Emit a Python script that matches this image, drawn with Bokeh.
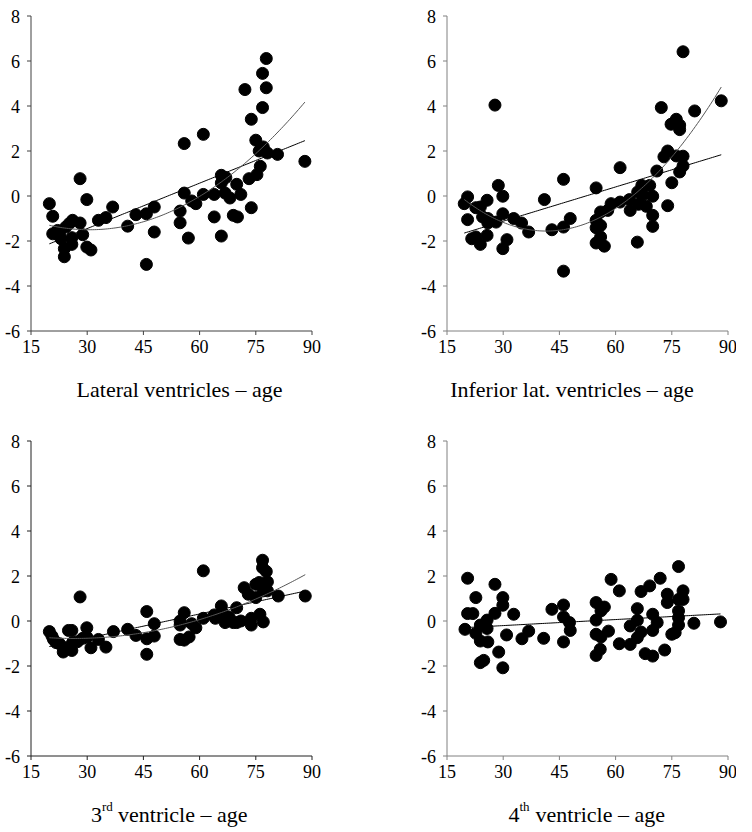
import numpy as np
from bokeh.plotting import figure
from bokeh.models import Range1d
from bokeh.core.properties import value
from bokeh.layouts import column, row
from bokeh.embed import file_html
from bokeh.resources import INLINE

# ---------------- data ----------------
x_ticks = [15, 30, 45, 60, 75, 90]
y_ticks = [-6, -4, -2, 0, 2, 4, 6, 8]

lat_age = [19.9, 20.8, 20.8, 22.1, 22.6, 23.0, 23.9, 23.9, 24.3, 25.2, 26.1, 25.9, 25.9,
           28.1, 28.1, 28.8, 29.9, 29.9, 31.0, 33.0, 35.0, 36.8, 40.8, 43.0, 45.8, 45.8,
           47.9, 47.9, 55.9, 54.8, 54.8, 55.9, 57.0, 57.9, 59.0, 61.0, 61.0, 63.9, 63.9,
           65.8, 65.8, 65.8, 67.0, 66.8, 68.1, 69.0, 69.9, 70.1, 71.0, 72.1, 73.2, 73.8,
           73.8, 75.0, 75.3, 75.9, 76.2, 76.8, 76.8, 77.0, 77.8, 77.8, 78.1, 80.8, 88.1]
lat_val = [-0.34, -0.90, -1.68, -1.53, -1.68, -1.90, -2.34, -2.70, -1.38, -1.23, -1.08, -1.85, -2.15,
           0.77, -1.20, -1.72, -0.16, -2.27, -2.40, -1.08, -0.96, -0.49, -1.34, -0.83, -0.79, -3.04,
           -0.49, -1.60, 2.33, -0.67, -1.19, 0.13, -1.87, -0.22, -0.34, 2.74, 0.07, 0.07, -0.93,
           0.92, 0.58, -1.78, 0.82, 0.13, -0.09, -0.86, 0.52, -0.93, 0.07, 4.73, 0.77, 3.41,
           -0.52, 2.48, 0.95, 2.00, 1.32, 5.45, 3.93, 2.18, 6.11, 4.81, 1.91, 1.85, 1.54]

inf_age = [19.6, 20.5, 20.5, 21.6, 22.7, 22.7, 23.9, 23.9, 24.5, 25.7, 25.7, 25.9, 25.9,
           27.8, 28.1, 28.7, 29.9, 29.9, 29.9, 31.0, 32.8, 34.9, 36.8, 41.0, 43.0, 46.1,
           46.1, 46.1, 47.9, 54.8, 54.8, 54.8, 54.8, 56.0, 56.0, 56.0, 57.0, 57.9, 58.8,
           61.2, 61.2, 63.7, 63.9, 65.8, 65.9, 66.1, 67.0, 67.3, 68.2, 69.1, 69.9, 69.9,
           69.9, 71.0, 72.2, 72.9, 73.9, 73.9, 74.8, 75.0, 76.2, 76.2, 77.1, 77.1, 77.1,
           78.0, 78.0, 78.0, 81.1, 88.2]
inf_val = [-0.34, -0.04, -1.05, -1.90, -1.82, -0.52, -0.49, -2.15, -0.93, -0.19, -1.75, -1.20, -1.00,
           4.04, -1.16, 0.47, -0.01, -0.79, -2.34, -1.94, -1.00, -1.20, -1.60, -0.16, -1.50, 0.74,
           -1.38, -3.34, -1.00, 0.36, -1.08, -1.41, -2.09, -0.71, -1.31, -1.82, -2.23, -0.64, -0.34,
           1.26, -0.27, -0.16, -0.64, -2.05, 0.18, -0.37, 0.47, 0.06, -0.46, 0.47, -0.01, -0.86,
           -1.35, 1.11, 3.93, 1.74, 2.00, -0.43, 3.19, 0.59, 3.41, 1.78, 3.15, 2.95, 1.07,
           6.41, 1.77, 1.34, 3.78, 4.23]

third_age = [19.9, 20.6, 21.0, 21.7, 22.6, 23.6, 24.3, 25.0, 25.9, 25.9, 26.1, 27.4, 28.1,
             28.8, 29.9, 29.9, 31.0, 33.0, 35.0, 37.0, 40.8, 43.0, 45.9, 45.9, 45.9, 47.9,
             47.9, 54.8, 54.8, 54.8, 55.9, 55.9, 57.2, 57.9, 59.0, 61.0, 61.0, 63.9, 64.2,
             65.8, 66.1, 66.8, 67.9, 69.0, 69.9, 69.9, 71.0, 71.9, 73.0, 73.8, 73.8, 75.0,
             75.0, 75.9, 76.1, 76.8, 76.8, 77.0, 77.0, 77.8, 78.1, 78.1, 81.0, 88.2]
third_val = [-0.47, -0.67, -0.82, -0.96, -1.01, -1.38, -1.19, -0.42, -0.42, -1.31, -0.96, -0.92, 1.07,
             -0.77, -0.30, -0.71, -1.19, -0.82, -1.16, -0.47, -0.37, -0.64, 0.42, -0.79, -1.48, -0.12,
             -0.67, 0.00, -0.18, -0.82, 0.37, -0.85, -0.71, -0.12, -0.30, 2.23, 0.12, 0.27, 0.12,
             0.67, 0.37, -0.07, 0.18, -0.07, 0.59, -0.07, 0.00, 1.48, 1.19, 0.12, -0.18, 1.04,
             1.63, 1.71, 0.30, 2.70, 2.37, 1.34, -0.04, 2.20, 1.74, 1.34, 1.11, 1.11]

fourth_age = [19.8, 20.5, 20.5, 21.9, 22.7, 22.7, 23.9, 23.9, 23.9, 24.8, 25.7, 25.7, 25.9,
              27.8, 27.8, 28.8, 29.9, 29.9, 29.9, 30.9, 32.8, 35.0, 36.8, 40.8, 43.0, 46.1,
              46.1, 46.1, 47.7, 47.9, 54.8, 54.8, 54.8, 54.8, 55.9, 56.1, 56.1, 57.0, 58.1,
              58.8, 61.0, 61.0, 63.9, 63.9, 65.8, 65.8, 65.8, 66.8, 66.8, 67.9, 69.1, 69.9,
              69.9, 69.9, 71.1, 71.9, 73.1, 73.8, 73.8, 75.0, 75.9, 76.8, 76.8, 76.8, 76.8,
              76.8, 78.0, 78.0, 80.9, 88.0]
fourth_val = [-0.37, 1.90, 0.33, 0.33, 1.04, -0.55, -0.18, -0.89, -1.85, -1.75, 0.04, -0.33, -0.93,
              0.34, 1.63, -1.38, 1.04, 0.70, -2.08, -0.62, 0.30, -0.79, -0.45, -0.77, 0.52, 0.71,
              0.18, -0.93, -0.07, -0.42, 0.82, 0.04, -0.59, -1.53, -1.26, -0.71, 0.45, 0.62, -0.45,
              1.85, 1.34, -1.01, -1.04, -0.22, 0.55, 0.03, -0.74, 1.31, -0.49, -1.45, 1.56, 0.30,
              -0.42, -1.56, -0.07, 1.90, -1.29, 1.19, 0.82, -0.59, -0.52, 2.42, 0.96, 0.45, 0.15,
              -0.18, 1.34, 0.96, -0.10, -0.04]

# titles: (main text, superscript, rest)
title_lat = ("Lateral ventricles \u2013 age", "", "")
title_inf = ("Inferior lat. ventricles \u2013 age", "", "")
title_3rd = ("3", "rd", "ventricle \u2013 age")
title_4th = ("4", "th", "ventricle \u2013 age")

# ---------------- layout / style constants (pixels) ----------------
FIG_W = 368
ROW_H = [420, 412]
FRAME_W, FRAME_H = 281.0, 315.0
AXIS_LEFT = [30.5, 78.5]      # y-axis position inside figure, per column
AXIS_TOP = [15.5, 20.5]       # top of y-axis inside figure, per row
TITLE_BASE = [389, 394]       # title baseline inside figure, per row
TITLE_CX = [[179, 203.5], [169, 218.5]]
X_MIN, X_MAX, Y_MIN, Y_MAX = 15, 90, -6, 8
PPX = FRAME_W / (X_MAX - X_MIN)
PPY = FRAME_H / (Y_MAX - Y_MIN)
FONT = value("Liberation Serif")
TICK_SIZE = "18px"
TITLE_SIZE = "22px"
SUP_SIZE = "13px"
TICK_LEN = 4


def make_panel(xs, ys, degrees, axis_color, r, c, title):
    h = ROW_H[r]
    x0 = X_MIN - AXIS_LEFT[c] / PPX
    x1 = x0 + FIG_W / PPX
    y1 = Y_MAX + AXIS_TOP[r] / PPY
    y0 = y1 - h / PPY
    p = figure(width=FIG_W, height=h, output_backend="svg", toolbar_location=None,
               x_range=Range1d(x0, x1), y_range=Range1d(y0, y1),
               x_axis_location=None, y_axis_location=None, title=None,
               min_border=0, background_fill_color="white", border_fill_color="white")
    p.outline_line_color = None
    p.grid.visible = False

    # axes (drawn in data space)
    tx = TICK_LEN / PPX
    ty = TICK_LEN / PPY
    p.segment(x0=[X_MIN, X_MIN], y0=[Y_MIN, Y_MIN], x1=[X_MAX, X_MIN], y1=[Y_MIN, Y_MAX],
              line_color=axis_color, line_width=1)
    p.segment(x0=x_ticks, y0=[Y_MIN] * len(x_ticks), x1=x_ticks, y1=[Y_MIN - ty] * len(x_ticks),
              line_color=axis_color, line_width=1)
    p.segment(x0=[X_MIN] * len(y_ticks), y0=y_ticks, x1=[X_MIN - tx] * len(y_ticks), y1=y_ticks,
              line_color=axis_color, line_width=1)
    p.text(x=x_ticks, y=[Y_MIN] * len(x_ticks), text=[str(v) for v in x_ticks],
           text_font=FONT, text_font_size=TICK_SIZE, text_color="black",
           text_align="center", text_baseline="middle", y_offset=15)
    p.text(x=[X_MIN] * len(y_ticks), y=y_ticks, text=[str(v) for v in y_ticks],
           text_font=FONT, text_font_size=TICK_SIZE, text_color="black",
           text_align="right", text_baseline="middle", x_offset=-11)

    # data
    p.scatter(xs, ys, size=12, color="black", line_color="black")
    xa = np.array(xs)
    xx = np.linspace(xa.min(), xa.max(), 120)
    for deg in degrees:
        coef = np.polyfit(xa, np.array(ys), deg)
        col = "black" if deg == 1 else "#555555"
        p.line(xx, np.polyval(coef, xx), line_color=col, line_width=1)

    # panel title
    main, sup, rest = title
    tx_c = x0 + TITLE_CX[r][c] / PPX
    ty_b = y1 - TITLE_BASE[r] / PPY
    if not sup:
        p.text(x=[tx_c], y=[ty_b], text=[main], text_font=FONT, text_font_size=TITLE_SIZE,
               text_color="black", text_align="center", text_baseline="alphabetic")
    else:
        w_main, w_sup, w_space, total = 11.0, 10.5, 5.5, 157.0
        start = tx_c - (total / 2) / PPX
        p.text(x=[start], y=[ty_b], text=[main], text_font=FONT, text_font_size=TITLE_SIZE,
               text_color="black", text_align="left", text_baseline="alphabetic")
        p.text(x=[start], y=[ty_b], text=[sup], text_font=FONT, text_font_size=SUP_SIZE,
               text_color="black", text_align="left", text_baseline="alphabetic",
               x_offset=w_main, y_offset=-8)
        p.text(x=[start], y=[ty_b], text=[rest], text_font=FONT, text_font_size=TITLE_SIZE,
               text_color="black", text_align="left", text_baseline="alphabetic",
               x_offset=w_main + w_sup + w_space)
    return p


p1 = make_panel(lat_age, lat_val, [1, 2], "#404040", 0, 0, title_lat)
p2 = make_panel(inf_age, inf_val, [1, 2], "#808080", 0, 1, title_inf)
p3 = make_panel(third_age, third_val, [1, 2], "#202020", 1, 0, title_3rd)
p4 = make_panel(fourth_age, fourth_val, [1], "#808080", 1, 1, title_4th)

layout = column(row(p1, p2), row(p3, p4))
open("out.html", "w").write(file_html(layout, INLINE))
